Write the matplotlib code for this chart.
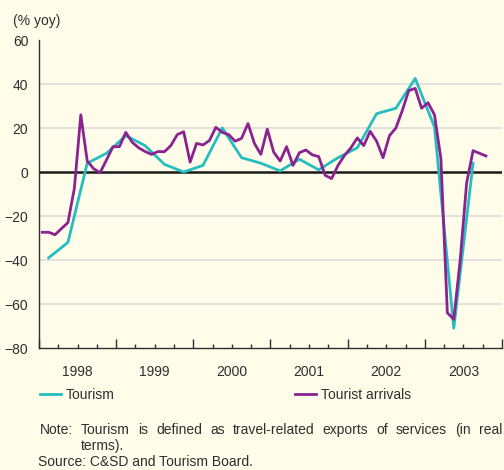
import numpy as np
import matplotlib
matplotlib.use("Agg")
import matplotlib.pyplot as plt
from matplotlib.ticker import FixedLocator, FuncFormatter

plt.rcParams['font.family'] = ['Liberation Sans', 'DejaVu Sans']

# quarterly tourism (real travel-related service exports), % yoy, from 1998 Q1
tourism = [-39, -32, 4, 8.5, 16.5, 12, 3.5, 0, 3, 20, 6.5, 4,
           0.5, 5.8, 1, 6.5, 11, 26.5, 29, 42.5, 20.5, -71, 4]
# monthly tourist arrivals, % yoy, from Jan 1998
arrivals = [-27.4, -27.4, -28.5, -25.7, -23, -7.4, 26, 5, 1.5, -0.3, 5.5, 11.5,
            11.5, 18, 13.5, 11, 9.3, 8, 9.3, 9.2, 12, 17, 18.3, 4.5,
            13, 12.3, 14.3, 20.3, 18, 17, 14, 15.3, 22, 13, 8, 19.5,
            9, 5, 11.5, 3, 8.8, 10, 7.8, 7, -1.5, -3, 3, 7.5,
            11, 15.5, 12, 18.5, 14, 6.5, 16.5, 20, 28, 37, 38, 29,
            31.5, 26, 6, -64, -67, -40, -5, 9.7, 8.5, 7.3]
years = [1998, 1999, 2000, 2001, 2002, 2003]

start = 1998
x_q = start + (np.arange(len(tourism)) + 0.5) / 4
x_m = start + (np.arange(len(arrivals)) + 0.5) / 12

bg = '#FFFCEA'
txt = '#2E2E2E'
cyan = '#25BEBE'
purple = '#8A2290'

fig = plt.figure(figsize=(5.04, 4.70), dpi=100)
fig.patch.set_facecolor(bg)
ax = fig.add_axes([39 / 504, 1 - 348 / 470, 463 / 504, 308 / 470])
ax.set_facecolor(bg)

for v in [-60, -40, -20, 20, 40]:
    ax.axhline(v, color='#DADADA', lw=1.1, zorder=1)
ax.axhline(0, color='#1a1a1a', lw=1.8, zorder=2)

ax.plot(x_q, tourism, color=cyan, lw=2.0, zorder=3, label='Tourism')
ax.plot(x_m, arrivals, color=purple, lw=2.0, zorder=4, label='Tourist arrivals')

ax.set_xlim(1998, 2004)
ax.set_ylim(-80, 60)
ax.set_yticks(range(-80, 61, 20))
ax.tick_params(axis='y', length=0, pad=7.7, labelsize=10, labelcolor=txt)

ax.xaxis.set_major_locator(FixedLocator(range(1998, 2005)))
ax.xaxis.set_major_formatter(FuncFormatter(lambda x, p: ''))
quarters = [y + q / 4 for y in range(1998, 2004) for q in (1, 2, 3)]
ax.xaxis.set_minor_locator(FixedLocator(quarters))
ax.xaxis.set_minor_formatter(FuncFormatter(
    lambda x, p: str(int(x)) if abs(x % 1 - 0.5) < 1e-6 and int(x) in years else ''))
ax.tick_params(axis='x', which='major', direction='in', length=6.5, width=1,
               color=txt)
ax.tick_params(axis='x', which='minor', direction='in', length=3, width=1,
               color=txt, pad=12, labelsize=10, labelcolor=txt)

for s in ['top', 'right']:
    ax.spines[s].set_visible(False)
for s in ['left', 'bottom']:
    ax.spines[s].set_color(txt)
    ax.spines[s].set_linewidth(1.0)

fig.text(13 / 504, 1 - 21 / 470, '(% yoy)', fontsize=10, color=txt, va='center')

h, l = ax.get_legend_handles_labels()
for handle, label, xp in zip(h, l, [40, 295]):
    fig.legend([handle], [label], loc='center left',
               bbox_to_anchor=(xp / 504, 1 - 395 / 470), frameon=False,
               borderpad=0, borderaxespad=0, handlelength=1.5,
               handletextpad=0.35, fontsize=10, labelcolor=txt)

# justified note line
renderer = fig.canvas.get_renderer()
fig.text(40 / 504, 1 - 430 / 470, 'Note:', fontsize=10, color=txt, va='center')
words = 'Tourism is defined as travel-related exports of services (in real'.split()
items = [fig.text(0, 1 - 430 / 470, w, fontsize=10, color=txt, va='center')
         for w in words]
widths = [t.get_window_extent(renderer).width for t in items]
x0, x1 = 81, 502
gap = (x1 - x0 - sum(widths)) / (len(words) - 1)
xp = x0
for t, w in zip(items, widths):
    t.set_x(xp / 504)
    xp += w + gap
fig.text(81 / 504, 1 - 446 / 470, 'terms).', fontsize=10, color=txt, va='center')
fig.text(38 / 504, 1 - 462 / 470, 'Source: C&SD and Tourism Board.', fontsize=10,
         color=txt, va='center')

fig.savefig('out.png', dpi=100, facecolor=fig.get_facecolor())
